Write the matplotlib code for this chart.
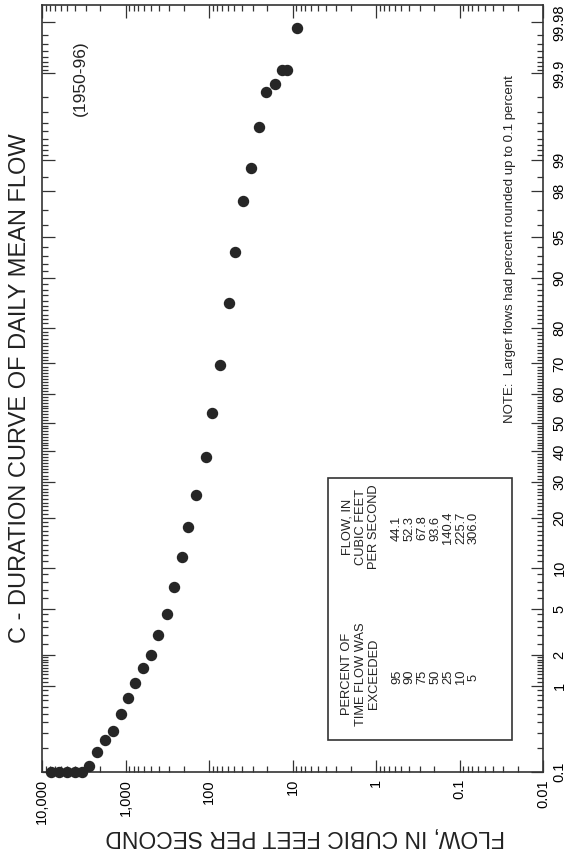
import numpy as np
import matplotlib
matplotlib.use('Agg')
import matplotlib.pyplot as plt
from matplotlib.patches import Rectangle
from statistics import NormalDist

plt.rcParams['font.family'] = ['Liberation Sans', 'DejaVu Sans']

# percent of time flow was exceeded / daily mean flow (cfs)
percent_exceeded = [0.1, 0.1, 0.1, 0.1, 0.1, 0.12, 0.18, 0.25, 0.32, 0.5, 0.75,
                    1.07, 1.5, 2.0, 3.0, 4.5, 7.3, 11.8, 17.8, 26.1, 38.0, 53.4,
                    69.5, 85.5, 93.4, 97.5, 98.8, 99.55, 99.83, 99.865, 99.91,
                    99.91, 99.976]
flow_cfs = [7800, 6250, 5010, 4020, 3310, 2730, 2190, 1750, 1410, 1130, 930,
            765, 614, 492, 405, 316, 260, 208, 177, 142, 110, 91,
            73, 56.9, 48.2, 38.7, 31.0, 25.5, 20.5, 16.0, 13.2,
            11.5, 8.93]

table_percent = ['95', '90', '75', '50', '25', '10', '5']
table_flow = ['44.1', '52.3', '67.8', '93.6', '140.4', '225.7', '306.0']

flow_ticks = [10000, 1000, 100, 10, 1, 0.1, 0.01]
flow_labels = ['10,000', '1,000', '100', '10', '1', '0.1', '0.01']
pct_ticks = [0.1, 1, 2, 5, 10, 20, 30, 40, 50, 60, 70, 80, 90, 95, 98, 99, 99.9, 99.98]
pct_labels = ['0.1', '1', '2', '5', '10', '20', '30', '40', '50', '60', '70',
              '80', '90', '95', '98', '99', '99.9', '99.98']

# probability (normal) scale for the percent axis
_nd = NormalDist()


def to_z(p):
    p = np.clip(np.asarray(p, dtype=float), 1e-6, 100 - 1e-6)
    return np.vectorize(lambda v: _nd.inv_cdf(v / 100.0), otypes=[float])(p)


def from_z(z):
    z = np.asarray(z, dtype=float)
    return np.vectorize(lambda v: _nd.cdf(v) * 100.0, otypes=[float])(z)


pct_minor = (list(np.arange(0.2, 1.0, 0.1)) + list(np.arange(1.1, 2.0, 0.1)) +
             [2.5, 3, 3.5, 4, 4.5, 6, 7, 8, 9] +
             [v for v in range(11, 90) if v % 10 != 0] +
             [91, 92, 93, 94, 96, 97, 98.5] +
             list(np.arange(99.1, 99.85, 0.1)) + list(np.arange(99.91, 99.975, 0.01)))

fig = plt.figure(figsize=(5.7, 8.55), dpi=100)
ax = fig.add_axes([42 / 570, 1 - 772 / 855, 501 / 570, 767 / 855])

ax.set_xscale('log')
ax.set_yscale('function', functions=(to_z, from_z))
ax.set_xlim(10000, 0.01)
ax.set_ylim(0.1, 99.989)

ax.plot(flow_cfs, percent_exceeded, 'o', color='#262626', ms=7.2,
        clip_on=False, zorder=3)

ax.set_xticks(flow_ticks, flow_labels)
ax.set_yticks(pct_ticks, pct_labels)
ax.set_yticks(pct_minor, minor=True)
ax.yaxis.set_minor_formatter(matplotlib.ticker.NullFormatter())
ax.xaxis.set_minor_formatter(matplotlib.ticker.NullFormatter())

ax.tick_params(axis='x', which='both', direction='in', top=True, bottom=True,
               labelrotation=90, labelsize=10.5, pad=5, width=0.9, color='#333333')
ax.tick_params(axis='y', which='both', direction='in', left=True, right=True,
               labelleft=False, labelright=True, labelrotation=90,
               labelsize=10.5, pad=7, width=0.9, color='#333333')
ax.tick_params(which='major', length=9)
ax.tick_params(which='minor', length=4.5)
for lbl in ax.get_yticklabels():
    lbl.set_va('center')

for s in ax.spines.values():
    s.set_linewidth(1.2)
    s.set_color('#333333')

# title, period, axis label, note (whole figure is turned on its side)
fig.text(20 / 570, 1 - 388 / 855, 'C - DURATION CURVE OF DAILY MEAN FLOW',
         rotation=90, ha='center', va='center', fontsize=17, color='#222222')
fig.text(80 / 570, 1 - 78 / 855, '(1950-96)', rotation=90, ha='center',
         va='center', fontsize=12.5, color='#222222')
fig.text(305 / 570, 1 - 836 / 855, 'FLOW, IN CUBIC FEET PER SECOND',
         rotation=180, ha='center', va='center', fontsize=16.5, color='#222222')
fig.text(510 / 570, 1 - 423 / 855,
         'NOTE:  Larger flows had percent rounded up to 0.1 percent',
         rotation=90, ha='center', va='bottom', fontsize=9.5, color='#222222')

# summary table box
fig.patches.append(Rectangle((328 / 570, 1 - 740 / 855), 184 / 570, 262 / 855,
                             transform=fig.transFigure, fill=False,
                             edgecolor='#333333', linewidth=1.2))
head1 = ['PERCENT OF', 'TIME FLOW WAS', 'EXCEEDED']
head2 = ['FLOW, IN', 'CUBIC FEET', 'PER SECOND']
for i, (h1, h2) in enumerate(zip(head1, head2)):
    xx = (347 + i * 13.5) / 570
    fig.text(xx, 1 - 674 / 855, h1, rotation=90, ha='center', va='center',
             fontsize=9.3, color='#222222')
    fig.text(xx, 1 - 527 / 855, h2, rotation=90, ha='center', va='center',
             fontsize=9.3, color='#222222')
for i, (p, q) in enumerate(zip(table_percent, table_flow)):
    xx = (397 + i * 12.8) / 570
    fig.text(xx, 1 - 677 / 855, p, rotation=90, ha='center', va='center',
             fontsize=9.3, color='#222222')
    fig.text(xx, 1 - 528 / 855, q, rotation=90, ha='center', va='center',
             fontsize=9.3, color='#222222')

fig.savefig('out.png', dpi=100)
